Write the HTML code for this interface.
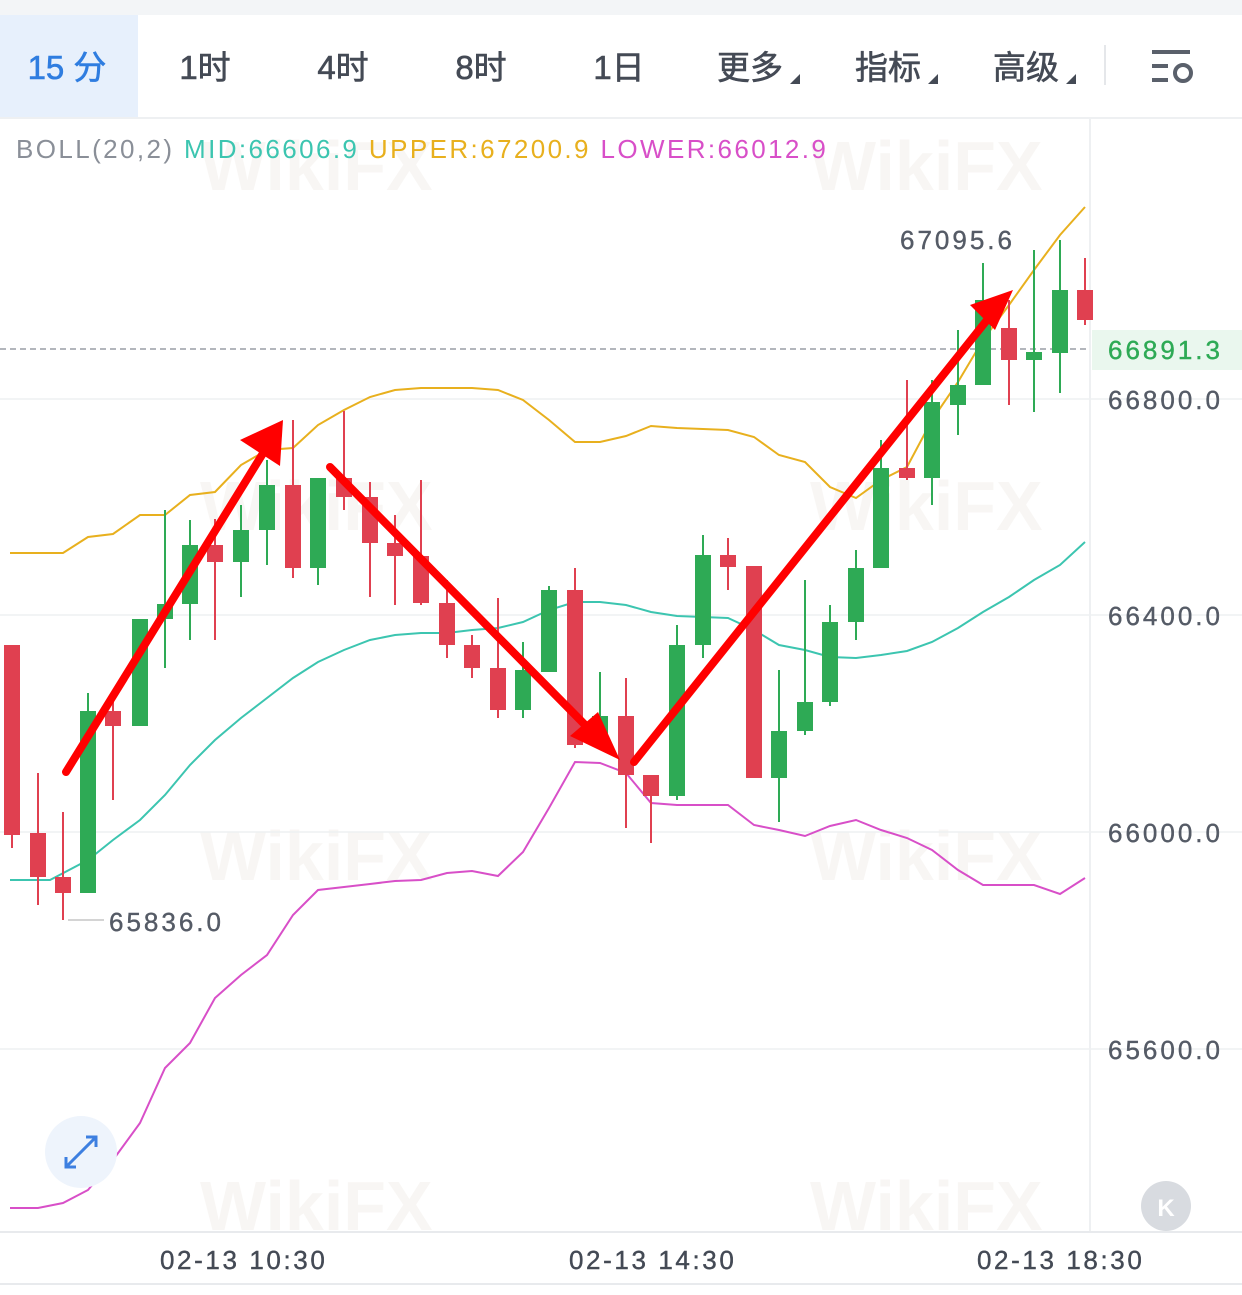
<!DOCTYPE html>
<html><head><meta charset="utf-8"><style>
body{margin:0;width:1242px;height:1290px;background:#fff;overflow:hidden;font-family:"Liberation Sans","Noto Sans CJK SC",sans-serif;}
</style></head><body>
<svg width="1242" height="1290" xmlns="http://www.w3.org/2000/svg" font-family="Liberation Sans, Noto Sans CJK SC, sans-serif">
<rect x="0" y="0" width="1242" height="15" fill="#f3f5f7"/>
<rect x="0" y="15" width="138" height="103" fill="#e7f0fc"/>
<line x1="0" y1="118" x2="1242" y2="118" stroke="#eef0f2" stroke-width="2"/>
<g font-size="33" fill="#444a55" text-anchor="middle" stroke="#444a55" stroke-width="0.6">
<text x="67" y="79" fill="#2f7de0" stroke="#2f7de0">15 分</text>
<text x="205" y="79">1时</text>
<text x="343" y="79">4时</text>
<text x="481" y="79">8时</text>
<text x="619" y="79">1日</text>
<text x="750" y="79">更多</text>
<text x="888" y="79">指标</text>
<text x="1026" y="79">高级</text>
</g>
<g fill="#444a55"><polygon points="790,84 800,74 800,84"/><polygon points="928,84 938,74 938,84"/><polygon points="1066,84 1076,74 1076,84"/></g>
<line x1="1105" y1="45" x2="1105" y2="85" stroke="#e5e7ea" stroke-width="2"/>
<g stroke="#5a606b" stroke-width="4" fill="none"><line x1="1152" y1="52" x2="1190" y2="52"/><line x1="1152" y1="66" x2="1168" y2="66"/><line x1="1152" y1="80" x2="1168" y2="80"/><circle cx="1183" cy="73" r="8"/></g>
<g font-weight="bold" opacity="0.05" fill="#8a6a40" font-size="70">
<text x="200" y="190">WikiFX</text><text x="810" y="190">WikiFX</text>
<text x="200" y="530">WikiFX</text><text x="810" y="530">WikiFX</text>
<text x="200" y="880">WikiFX</text><text x="810" y="880">WikiFX</text>
<text x="200" y="1230">WikiFX</text><text x="810" y="1230">WikiFX</text>
</g>
<text x="16" y="158" font-size="26" letter-spacing="2.4"><tspan fill="#8a8f98">BOLL(20,2) </tspan><tspan fill="#3cc5b0">MID:66606.9 </tspan><tspan fill="#e8b01e">UPPER:67200.9 </tspan><tspan fill="#d84fc8">LOWER:66012.9</tspan></text>
<g stroke="#eef0f2" stroke-width="1.5"><line x1="0" y1="399" x2="1242" y2="399"/><line x1="0" y1="615" x2="1242" y2="615"/><line x1="0" y1="832" x2="1242" y2="832"/><line x1="0" y1="1049" x2="1242" y2="1049"/></g>
<line x1="1090" y1="118" x2="1090" y2="1232" stroke="#eef0f2" stroke-width="2"/>
<line x1="0" y1="1232" x2="1242" y2="1232" stroke="#e8eaed" stroke-width="2"/>
<line x1="0" y1="1284" x2="1242" y2="1284" stroke="#e8eaed" stroke-width="2"/>
<line x1="0" y1="349" x2="1090" y2="349" stroke="#9a9ea6" stroke-width="1.5" stroke-dasharray="6,4"/>
<rect x="1092" y="330" width="150" height="40" fill="#eaf7ee"/>
<g font-size="26" fill="#555b66" letter-spacing="3" stroke="#555b66" stroke-width="0.4">
<text x="1108" y="409">66800.0</text><text x="1108" y="625">66400.0</text><text x="1108" y="842">66000.0</text><text x="1108" y="1059">65600.0</text>
<text x="1108" y="359" fill="#2eaa55" stroke="#2eaa55">66891.3</text>
<text x="900" y="249">67095.6</text>
<text x="109" y="931">65836.0</text>
</g>
<g font-size="26" fill="#444a55" letter-spacing="2.6" stroke="#444a55" stroke-width="0.4"><text x="160" y="1269">02-13 10:30</text><text x="569" y="1269">02-13 14:30</text><text x="977" y="1269">02-13 18:30</text></g>
<line x1="68" y1="920" x2="104" y2="920" stroke="#aaa"/>
<g fill="none" stroke-width="2">
<polyline stroke="#e8b01e" points="10,553 63,553 88,537 113,534 140,515 165,515 190,495 215,492 241,465 267,450 293,448 318,425 344,410 370,397 395,390 421,388 447,388 472,388 498,390 523,400 549,420 575,442 600,442 626,436 651,426 677,428 703,429 728,430 754,437 779,455 805,462 830,487 856,498 881,480 907,467 932,420 958,382 983,340 1009,305 1034,270 1060,235 1085,207"/>
<polyline stroke="#3cc5b0" points="10,880 50,880 88,860 113,840 140,820 165,795 190,765 215,740 241,718 267,698 293,678 318,662 344,650 370,640 395,635 421,633 447,633 472,630 498,628 523,622 549,610 575,602 600,602 626,605 651,612 677,616 703,617 728,618 754,630 779,645 805,650 830,657 856,658 881,655 907,651 932,642 958,628 983,612 1009,597 1034,580 1060,565 1085,542"/>
<polyline stroke="#d84fc8" points="10,1208 38,1208 63,1203 88,1190 113,1160 140,1123 165,1068 190,1043 215,998 241,975 267,955 293,915 318,890 344,887 370,884 395,881 421,880 447,873 472,871 498,876 523,852 549,808 575,762 600,763 626,773 651,803 677,805 703,805 728,805 754,825 779,830 805,836 830,826 856,820 881,830 907,838 932,850 958,870 983,885 1009,885 1034,885 1060,894 1085,878"/>
</g>
<g id="c"></g>
<g stroke="#ff0000" stroke-width="8" stroke-linecap="round">
<line x1="66" y1="772" x2="270" y2="442"/><line x1="330" y1="467" x2="600" y2="740"/><line x1="634" y1="762" x2="995" y2="310"/>
</g>
<g fill="#ff0000">
<polygon points="283,420 240,440 280,466"/>
<polygon points="620,760 570,736 598,712"/>
<polygon points="1013,290 970,305 995,330"/>
</g>
<circle cx="81" cy="1152" r="36" fill="#eef4fc"/>
<g stroke="#3d7fe0" stroke-width="3" fill="none"><line x1="66" y1="1167" x2="96" y2="1137"/><polyline points="86,1137 96,1137 96,1147"/><polyline points="66,1157 66,1167 76,1167"/></g>
<circle cx="1166" cy="1206" r="25" fill="#d8dbe0"/>
<text x="1166" y="1216" font-size="24" fill="#fff" text-anchor="middle" font-weight="bold">K</text>
</svg>
<script>
var d=[[12,645,835,645,848,0],[38,833,877,773,905,0],[63,877,893,812,920,0],[88,711,893,693,893,1],[113,711,726,693,800,0],[140,619,726,619,726,1],[165,604,619,510,668,1],[190,545,604,520,640,1],[215,545,562,519,640,0],[241,530,562,505,597,1],[267,485,530,460,565,1],[293,485,568,420,578,0],[318,478,568,478,585,1],[344,478,497,411,510,0],[370,497,543,482,597,0],[395,543,556,515,605,0],[421,556,603,480,605,0],[447,603,645,580,658,0],[472,645,668,635,678,0],[498,668,710,598,718,0],[523,670,710,642,718,1],[549,590,672,586,672,1],[575,590,745,568,748,0],[600,716,745,672,745,1],[626,716,775,678,828,0],[651,775,796,775,843,0],[677,645,796,625,800,1],[703,555,645,535,658,1],[728,555,567,538,590,0],[754,566,778,566,778,0],[779,731,778,670,822,1],[805,702,731,580,735,1],[830,622,702,605,706,1],[856,568,622,550,640,1],[881,468,568,440,568,1],[907,468,478,380,480,0],[932,402,478,380,505,1],[958,385,405,330,435,1],[983,300,385,263,385,1],[1009,328,360,300,405,0],[1034,352,360,250,412,1],[1060,290,353,240,393,1],[1085,290,320,258,325,0]];
var s='';d.forEach(function(c){var col=c[5]?'#2eaa55':'#e04050';s+='<line x1="'+c[0]+'" x2="'+c[0]+'" y1="'+c[3]+'" y2="'+c[4]+'" stroke="'+col+'" stroke-width="2"/><rect x="'+(c[0]-8)+'" y="'+c[1]+'" width="16" height="'+Math.max(2,c[2]-c[1])+'" fill="'+col+'"/>';});
document.getElementById('c').innerHTML=s;
</script>
</body></html>
